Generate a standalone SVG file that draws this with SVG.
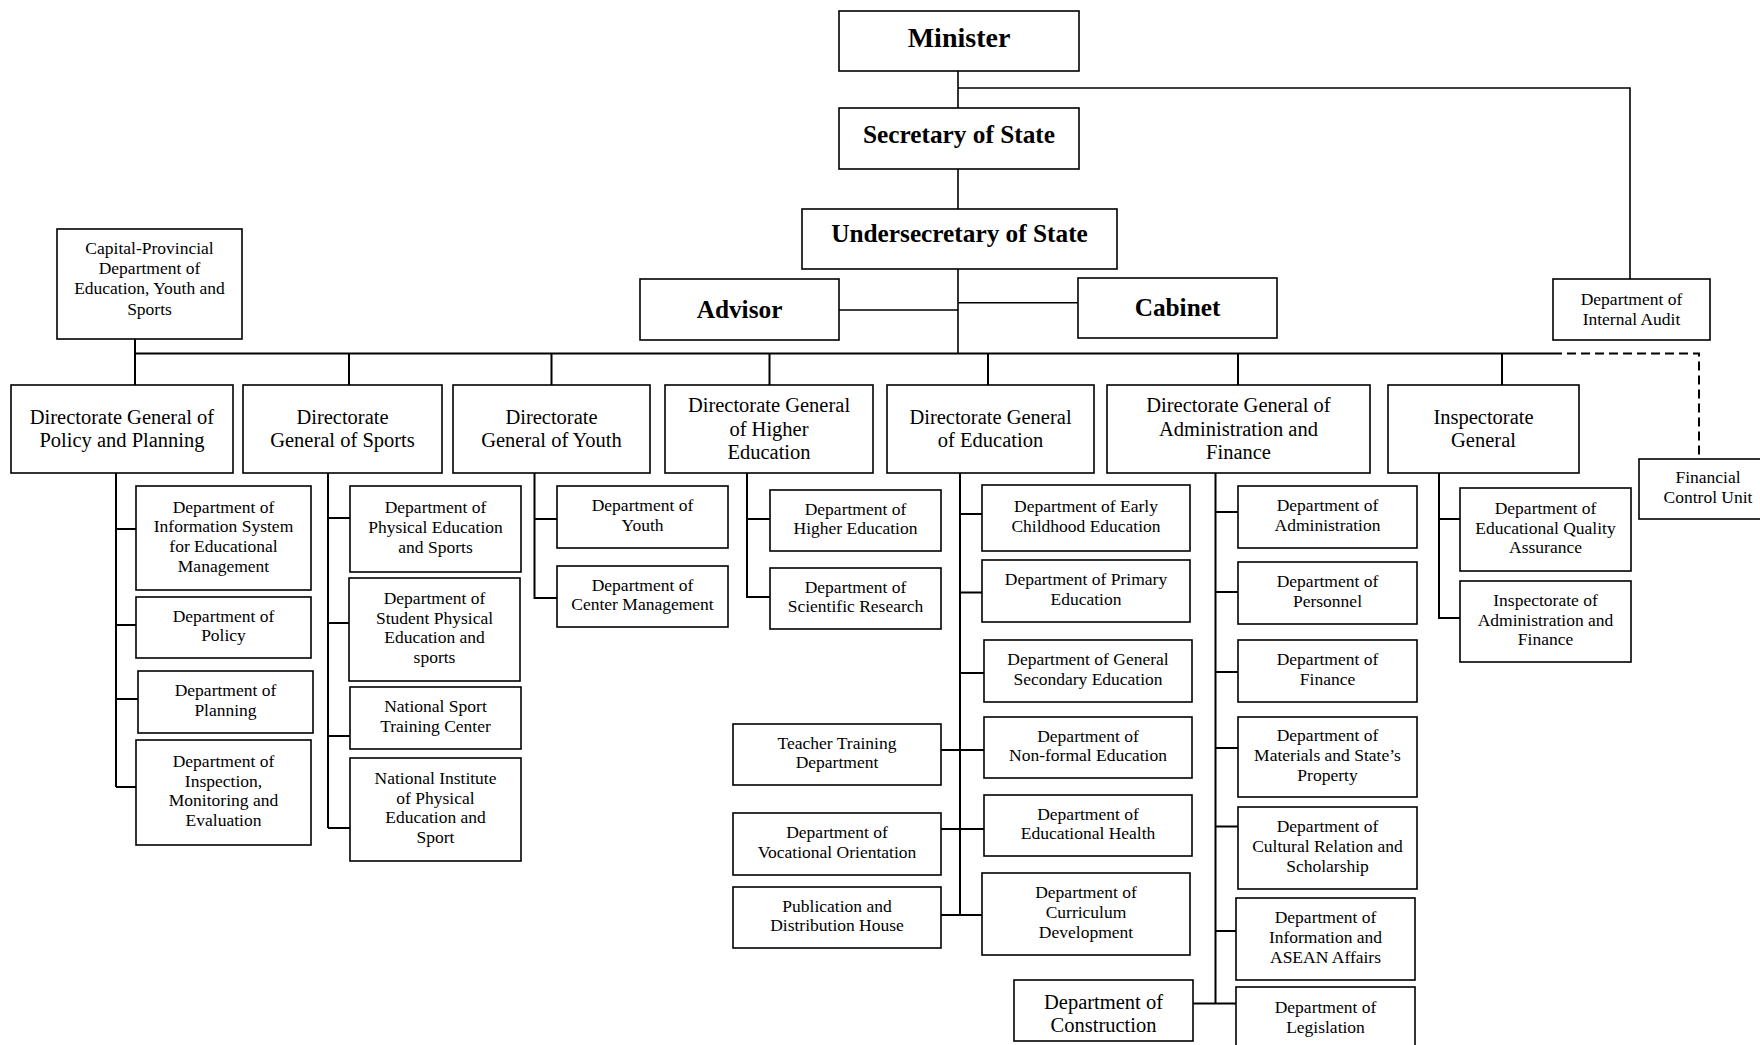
<svg xmlns="http://www.w3.org/2000/svg" width="1760" height="1045" viewBox="0 0 1760 1045">
<style>
.box{fill:#fff;stroke:#000;stroke-width:1.6}
.ln{stroke:#000;stroke-width:2;fill:none}
.tl{stroke:#000;stroke-width:1.6;fill:none}
.dash{stroke:#000;stroke-width:2;fill:none;stroke-dasharray:9 5}
text{font-family:"Liberation Serif","Times New Roman",serif;fill:#000;text-anchor:middle}
.s{font-size:17.5px}
.l{font-size:20.5px}
.b{font-size:25.3px;font-weight:bold}
</style>
<rect width="1760" height="1045" fill="#fff"/>
<g id="connectors">
<path class="tl" d="M958 71V108M958 169V209M958 269V353.5M958 88H1630V279M839 310H958M958 302.7H1078"/>
<path class="ln" d="M135 339V385M135 353.5H1553M349 353.5V385M551.5 353.5V385M769.5 353.5V385M988 353.5V385M1238 353.5V385M1502 353.5V385"/>
<path class="dash" d="M1553 353.5H1699V459"/>
<path class="ln" d="M116 473V787M116 529H136M116 625H136M116 699H138M116 787H136"/>
<path class="ln" d="M328 473V828M328 518H350M328 623H349M328 736H350M328 828H350"/>
<path class="ln" d="M534.5 473V598H557M534.5 519H557"/>
<path class="ln" d="M747 473V597H770M747 519H770"/>
<path class="ln" d="M960 473V915M960 514H982M960 592.5H982M960 673H984M941 750H984M941 829H984M941 915H982"/>
<path class="ln" d="M1215.5 473V1003.5M1215.5 512H1238M1215.5 592H1238M1215.5 672H1238M1215.5 748H1238M1215.5 826.5H1238M1215.5 931H1236M1193 1003.5H1236"/>
<path class="ln" d="M1439 473V618H1460M1439 519H1460"/>
</g>
<g id="minister"><rect class="box" x="839" y="11" width="240" height="60"/><text class="b" x="959" y="47" style="font-size:28px">Minister</text></g>
<g id="secretary"><rect class="box" x="839" y="108" width="240" height="61"/><text class="b" x="959" y="143">Secretary of State</text></g>
<g id="undersecretary"><rect class="box" x="802" y="209" width="315" height="60"/><text class="b" x="959.5" y="242">Undersecretary of State</text></g>
<g id="advisor"><rect class="box" x="640" y="279" width="199" height="61"/><text class="b" x="739.5" y="318">Advisor</text></g>
<g id="cabinet"><rect class="box" x="1078" y="278" width="199" height="60"/><text class="b" x="1177.5" y="316">Cabinet</text></g>
<g id="internal-audit"><rect class="box" x="1553" y="279" width="157" height="61"/><text class="s" x="1631.5" y="305"><tspan x="1631.5">Department of</tspan><tspan x="1631.5" dy="20">Internal Audit</tspan></text></g>
<g id="capital-provincial"><rect class="box" x="57" y="229" width="185" height="110"/><text class="s" x="149.5" y="254"><tspan x="149.5">Capital-Provincial</tspan><tspan x="149.5" dy="20.2">Department of</tspan><tspan x="149.5" dy="20.2">Education, Youth and</tspan><tspan x="149.5" dy="20.2">Sports</tspan></text></g>
<g id="financial-control"><rect class="box" x="1639" y="459" width="138" height="60"/><text class="s" x="1708" y="483.2"><tspan x="1708">Financial</tspan><tspan x="1708" dy="19.7">Control Unit</tspan></text></g>

<g id="dg-policy"><rect class="box" x="11" y="385" width="222" height="88"/><text class="l" x="122" y="423.9"><tspan x="122">Directorate General of</tspan><tspan x="122" dy="23.3">Policy and Planning</tspan></text></g>
<g id="dg-sports"><rect class="box" x="243" y="385" width="199" height="88"/><text class="l" x="342.5" y="423.9"><tspan x="342.5">Directorate</tspan><tspan x="342.5" dy="23.3">General of Sports</tspan></text></g>
<g id="dg-youth"><rect class="box" x="453" y="385" width="197" height="88"/><text class="l" x="551.5" y="423.9"><tspan x="551.5">Directorate</tspan><tspan x="551.5" dy="23.3">General of Youth</tspan></text></g>
<g id="dg-higher"><rect class="box" x="665" y="385" width="208" height="88"/><text class="l" x="769" y="412.2"><tspan x="769">Directorate General</tspan><tspan x="769" dy="23.3">of Higher</tspan><tspan x="769" dy="23.3">Education</tspan></text></g>
<g id="dg-education"><rect class="box" x="887" y="385" width="207" height="88"/><text class="l" x="990.5" y="423.9"><tspan x="990.5">Directorate General</tspan><tspan x="990.5" dy="23.3">of Education</tspan></text></g>
<g id="dg-admin"><rect class="box" x="1107" y="385" width="263" height="88"/><text class="l" x="1238.5" y="412.2"><tspan x="1238.5">Directorate General of</tspan><tspan x="1238.5" dy="23.3">Administration and</tspan><tspan x="1238.5" dy="23.3">Finance</tspan></text></g>
<g id="inspectorate-general"><rect class="box" x="1388" y="385" width="191" height="88"/><text class="l" x="1483.5" y="423.9"><tspan x="1483.5">Inspectorate</tspan><tspan x="1483.5" dy="23.3">General</tspan></text></g>

<g id="dep-info-system"><rect class="box" x="136" y="486" width="175" height="104"/><text class="s" x="223.5" y="512.5"><tspan x="223.5">Department of</tspan><tspan x="223.5" dy="19.7">Information System</tspan><tspan x="223.5" dy="19.7">for Educational</tspan><tspan x="223.5" dy="19.7">Management</tspan></text></g>
<g id="dep-policy"><rect class="box" x="136" y="597" width="175" height="61"/><text class="s" x="223.5" y="621.7"><tspan x="223.5">Department of</tspan><tspan x="223.5" dy="19.7">Policy</tspan></text></g>
<g id="dep-planning"><rect class="box" x="138" y="671" width="175" height="62"/><text class="s" x="225.5" y="696.2"><tspan x="225.5">Department of</tspan><tspan x="225.5" dy="19.7">Planning</tspan></text></g>
<g id="dep-inspection"><rect class="box" x="136" y="740" width="175" height="105"/><text class="s" x="223.5" y="767"><tspan x="223.5">Department of</tspan><tspan x="223.5" dy="19.7">Inspection,</tspan><tspan x="223.5" dy="19.7">Monitoring and</tspan><tspan x="223.5" dy="19.7">Evaluation</tspan></text></g>

<g id="dep-pe-sports"><rect class="box" x="350" y="486" width="171" height="86"/><text class="s" x="435.5" y="513.3"><tspan x="435.5">Department of</tspan><tspan x="435.5" dy="19.7">Physical Education</tspan><tspan x="435.5" dy="19.7">and Sports</tspan></text></g>
<g id="dep-student-pe"><rect class="box" x="349" y="578" width="171" height="103"/><text class="s" x="434.5" y="604"><tspan x="434.5">Department of</tspan><tspan x="434.5" dy="19.7">Student Physical</tspan><tspan x="434.5" dy="19.7">Education and</tspan><tspan x="434.5" dy="19.7">sports</tspan></text></g>
<g id="national-sport-training"><rect class="box" x="350" y="687" width="171" height="62"/><text class="s" x="435.5" y="712.2"><tspan x="435.5">National Sport</tspan><tspan x="435.5" dy="19.7">Training Center</tspan></text></g>
<g id="national-institute"><rect class="box" x="350" y="758" width="171" height="103"/><text class="s" x="435.5" y="784"><tspan x="435.5">National Institute</tspan><tspan x="435.5" dy="19.7">of Physical</tspan><tspan x="435.5" dy="19.7">Education and</tspan><tspan x="435.5" dy="19.7">Sport</tspan></text></g>

<g id="dep-youth"><rect class="box" x="557" y="486" width="171" height="62"/><text class="s" x="642.5" y="511.2"><tspan x="642.5">Department of</tspan><tspan x="642.5" dy="19.7">Youth</tspan></text></g>
<g id="dep-center-management"><rect class="box" x="557" y="566" width="171" height="61"/><text class="s" x="642.5" y="590.7"><tspan x="642.5">Department of</tspan><tspan x="642.5" dy="19.7">Center Management</tspan></text></g>

<g id="dep-higher-education"><rect class="box" x="770" y="490" width="171" height="61"/><text class="s" x="855.5" y="514.7"><tspan x="855.5">Department of</tspan><tspan x="855.5" dy="19.7">Higher Education</tspan></text></g>
<g id="dep-scientific-research"><rect class="box" x="770" y="568" width="171" height="61"/><text class="s" x="855.5" y="592.7"><tspan x="855.5">Department of</tspan><tspan x="855.5" dy="19.7">Scientific Research</tspan></text></g>

<g id="dep-early-childhood"><rect class="box" x="982" y="485" width="208" height="66"/><text class="s" x="1086" y="512.2"><tspan x="1086">Department of Early</tspan><tspan x="1086" dy="19.7">Childhood Education</tspan></text></g>
<g id="dep-primary"><rect class="box" x="982" y="560" width="208" height="62"/><text class="s" x="1086" y="585.2"><tspan x="1086">Department of Primary</tspan><tspan x="1086" dy="19.7">Education</tspan></text></g>
<g id="dep-secondary"><rect class="box" x="984" y="640" width="208" height="62"/><text class="s" x="1088" y="665.2"><tspan x="1088">Department of General</tspan><tspan x="1088" dy="19.7">Secondary Education</tspan></text></g>
<g id="dep-nonformal"><rect class="box" x="984" y="717" width="208" height="61"/><text class="s" x="1088" y="741.7"><tspan x="1088">Department of</tspan><tspan x="1088" dy="19.7">Non-formal Education</tspan></text></g>
<g id="dep-health"><rect class="box" x="984" y="795" width="208" height="61"/><text class="s" x="1088" y="819.7"><tspan x="1088">Department of</tspan><tspan x="1088" dy="19.7">Educational Health</tspan></text></g>
<g id="dep-curriculum"><rect class="box" x="982" y="873" width="208" height="82"/><text class="s" x="1086" y="898.3"><tspan x="1086">Department of</tspan><tspan x="1086" dy="19.7">Curriculum</tspan><tspan x="1086" dy="19.7">Development</tspan></text></g>
<g id="teacher-training"><rect class="box" x="733" y="724" width="208" height="61"/><text class="s" x="837" y="748.7"><tspan x="837">Teacher Training</tspan><tspan x="837" dy="19.7">Department</tspan></text></g>
<g id="dep-vocational"><rect class="box" x="733" y="813" width="208" height="62"/><text class="s" x="837" y="838.2"><tspan x="837">Department of</tspan><tspan x="837" dy="19.7">Vocational Orientation</tspan></text></g>
<g id="publication-house"><rect class="box" x="733" y="887" width="208" height="61"/><text class="s" x="837" y="911.7"><tspan x="837">Publication and</tspan><tspan x="837" dy="19.7">Distribution House</tspan></text></g>

<g id="dep-administration"><rect class="box" x="1238" y="486" width="179" height="62"/><text class="s" x="1327.5" y="511.2"><tspan x="1327.5">Department of</tspan><tspan x="1327.5" dy="19.7">Administration</tspan></text></g>
<g id="dep-personnel"><rect class="box" x="1238" y="562" width="179" height="62"/><text class="s" x="1327.5" y="587.2"><tspan x="1327.5">Department of</tspan><tspan x="1327.5" dy="19.7">Personnel</tspan></text></g>
<g id="dep-finance"><rect class="box" x="1238" y="640" width="179" height="62"/><text class="s" x="1327.5" y="665.2"><tspan x="1327.5">Department of</tspan><tspan x="1327.5" dy="19.7">Finance</tspan></text></g>
<g id="dep-materials"><rect class="box" x="1238" y="717" width="179" height="80"/><text class="s" x="1327.5" y="741.3"><tspan x="1327.5">Department of</tspan><tspan x="1327.5" dy="19.7">Materials and State’s</tspan><tspan x="1327.5" dy="19.7">Property</tspan></text></g>
<g id="dep-cultural"><rect class="box" x="1238" y="807" width="179" height="82"/><text class="s" x="1327.5" y="832.3"><tspan x="1327.5">Department of</tspan><tspan x="1327.5" dy="19.7">Cultural Relation and</tspan><tspan x="1327.5" dy="19.7">Scholarship</tspan></text></g>
<g id="dep-asean"><rect class="box" x="1236" y="898" width="179" height="82"/><text class="s" x="1325.5" y="923.3"><tspan x="1325.5">Department of</tspan><tspan x="1325.5" dy="19.7">Information and</tspan><tspan x="1325.5" dy="19.7">ASEAN Affairs</tspan></text></g>
<g id="dep-legislation"><rect class="box" x="1236" y="987" width="179" height="70"/><text class="s" x="1325.5" y="1013"><tspan x="1325.5">Department of</tspan><tspan x="1325.5" dy="19.5">Legislation</tspan></text></g>
<g id="dep-construction"><rect class="box" x="1014" y="980" width="179" height="61"/><text class="l" x="1103.5" y="1009"><tspan x="1103.5">Department of</tspan><tspan x="1103.5" dy="23">Construction</tspan></text></g>

<g id="dep-quality-assurance"><rect class="box" x="1460" y="488" width="171" height="83"/><text class="s" x="1545.5" y="513.8"><tspan x="1545.5">Department of</tspan><tspan x="1545.5" dy="19.7">Educational Quality</tspan><tspan x="1545.5" dy="19.7">Assurance</tspan></text></g>
<g id="inspectorate-admin"><rect class="box" x="1460" y="581" width="171" height="81"/><text class="s" x="1545.5" y="605.8"><tspan x="1545.5">Inspectorate of</tspan><tspan x="1545.5" dy="19.7">Administration and</tspan><tspan x="1545.5" dy="19.7">Finance</tspan></text></g>
</svg>
